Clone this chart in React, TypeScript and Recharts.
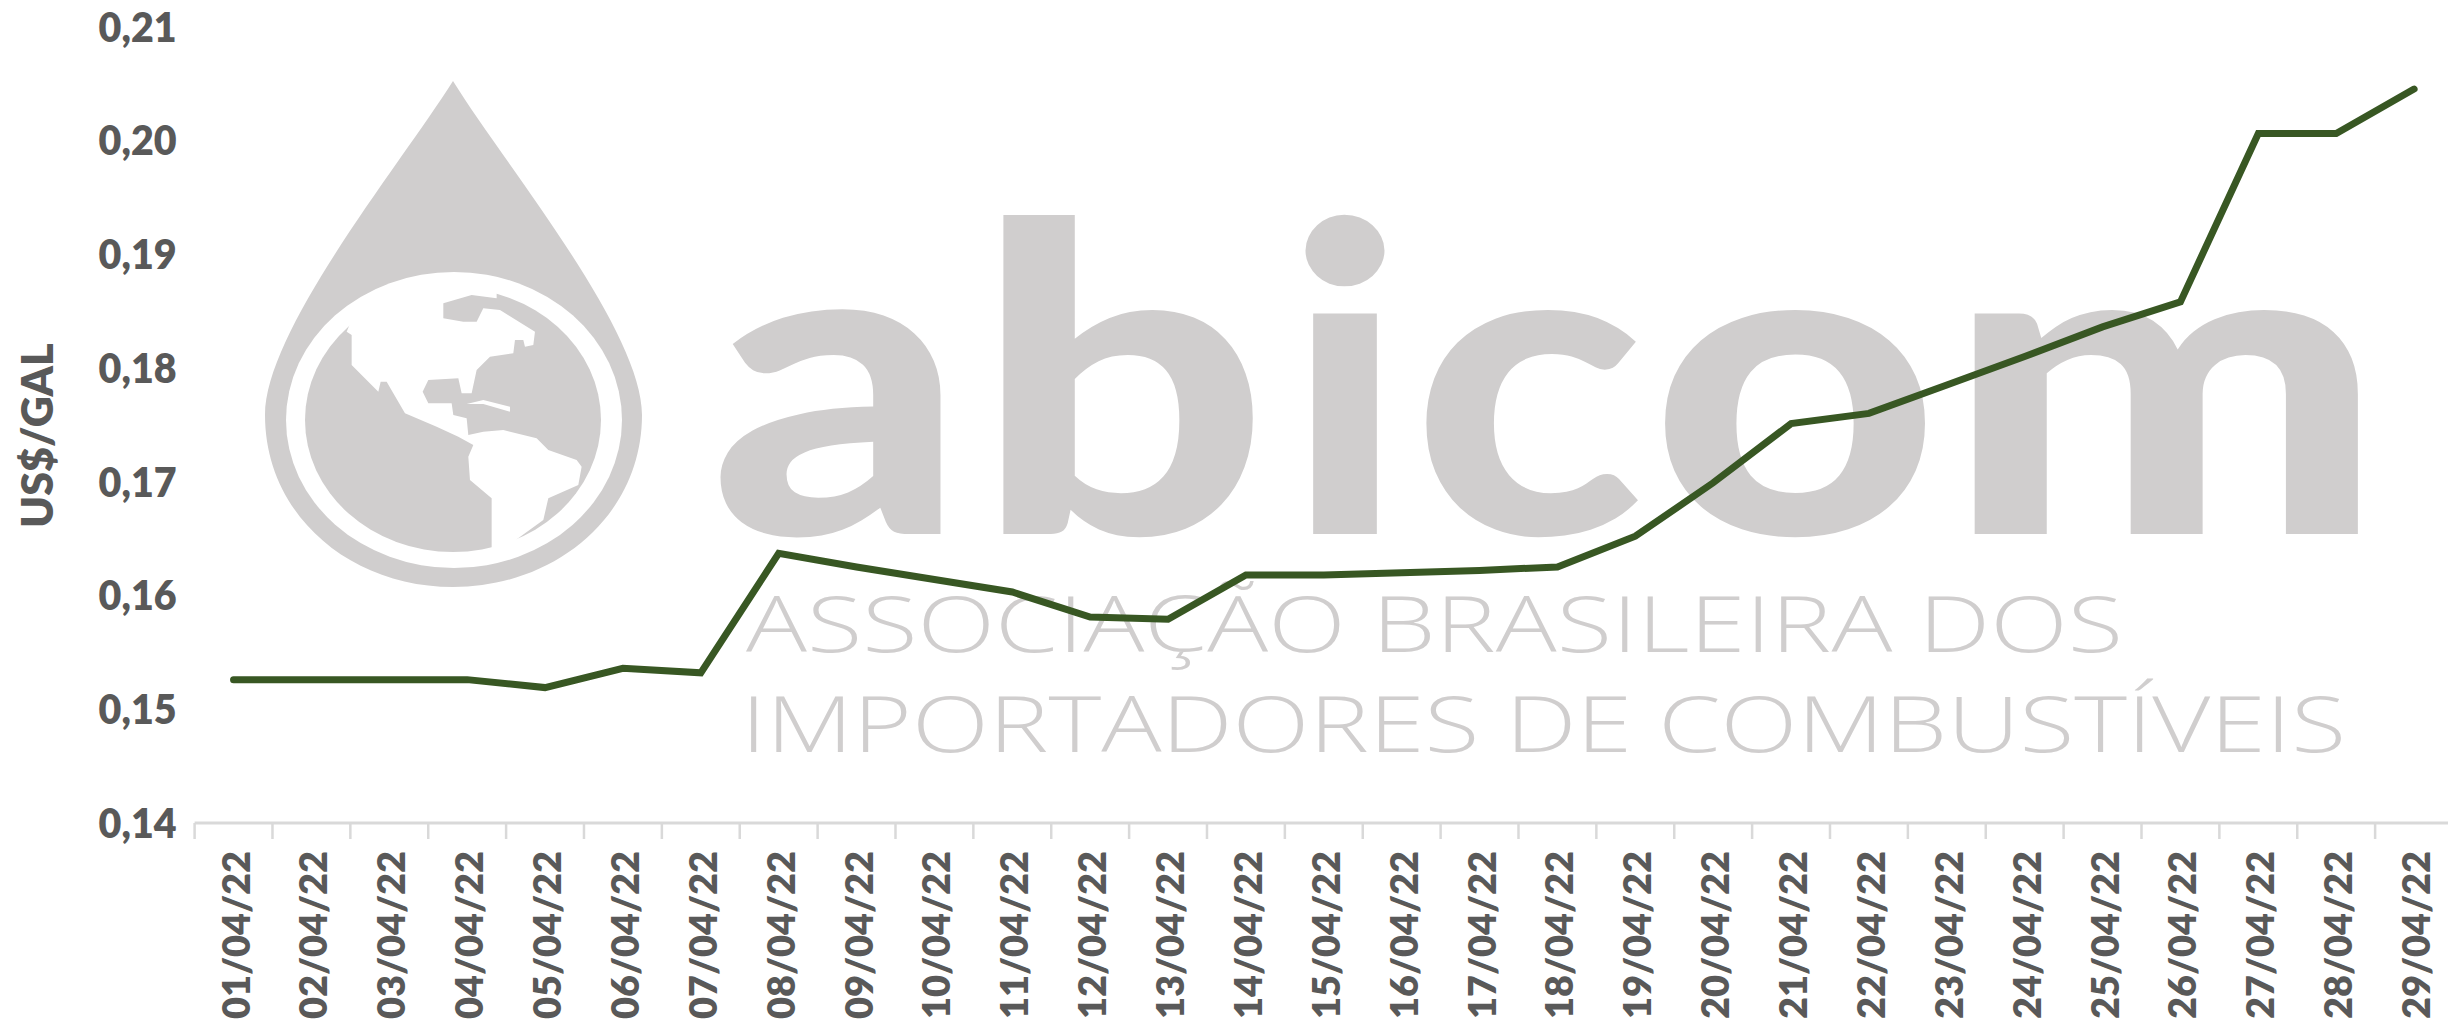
import { LineChart, Line, XAxis, YAxis, Label } from 'recharts'

const days = [
  '01/04/22', '02/04/22', '03/04/22', '04/04/22', '05/04/22', '06/04/22', '07/04/22', '08/04/22', '09/04/22', '10/04/22',
  '11/04/22', '12/04/22', '13/04/22', '14/04/22', '15/04/22', '16/04/22', '17/04/22', '18/04/22', '19/04/22', '20/04/22',
  '21/04/22', '22/04/22', '23/04/22', '24/04/22', '25/04/22', '26/04/22', '27/04/22', '28/04/22', '29/04/22',
]
const prices = [
  0.1526, 0.1526, 0.1526, 0.1526, 0.1519, 0.1536, 0.1532, 0.1637, 0.1625, 0.1614,
  0.1603, 0.1581, 0.1579, 0.1618, 0.1618, 0.162, 0.1622, 0.1625, 0.1652, 0.1699,
  0.1751, 0.176, 0.1785, 0.181, 0.1836, 0.1858, 0.2006, 0.2006, 0.2045,
]
const yTicks = [0.14, 0.15, 0.16, 0.17, 0.18, 0.19, 0.2, 0.21]

const chartData = days.map((day, i) => ({ day, price: prices[i] }))

const WIDTH = 2453
const HEIGHT = 1022
const PLOT_LEFT = 194.6
const STEP = (WIDTH - PLOT_LEFT) / days.length
const FONT = 'Lato, sans-serif'
const TEXT_COLOR = '#595959'
const AXIS_COLOR = '#D9D9D9'
const MARK_COLOR = '#D0CECE'

// white land of the logo globe, traced at 3x from (250,250)
const land =
  'M305 255 L305 345 L385 425 L392 395 L410 395 L430 430 L465 490 L560 530 L625 560 L670 585 L655 620 L660 690 L725 745 L725 915 L790 905 L790 875 L880 810 L895 745 L985 705 L995 650 L980 630 L895 600 L860 565 L760 540 L700 545 L655 555 L650 505 L610 495 L605 460 L535 460 L518 425 L535 390 L625 385 L635 430 L665 430 L680 360 L720 320 L790 310 L795 270 L820 270 L825 290 L850 285 L855 245 L750 180 L700 175 L680 215 L640 215 L580 205 L580 160 L665 135 L740 145 L740 90 L500 90 L330 150 L290 245 Z'
const cuba = 'M650 462 L700 450 L780 470 L780 485 L700 462 Z'

function Watermark() {
  return (
    <svg width={2448} height={1022} style={{ position: 'absolute', left: 0, top: 0 }}>
      <path d="M453 81 C400 165 265 330 265 415 C265 515 350 587 453 587 C556 587 642 515 642 415 C642 330 505 165 453 81 Z" fill={MARK_COLOR} />
      <ellipse cx={454} cy={420} rx={168} ry={148} fill="#fff" />
      <ellipse cx={453} cy={420} rx={148} ry={132} fill={MARK_COLOR} />
      <g transform="translate(250 250) scale(0.3333)" fill="#fff">
        <path d={land} />
        <path d={cuba} />
      </g>
      <g fontFamily="'Open Sans', sans-serif" fill={MARK_COLOR}>
        <text y={534} fontFamily={FONT} fontSize={428} fontWeight={900}>
          <tspan x={710} textLength={256} lengthAdjust="spacingAndGlyphs">a</tspan>
          <tspan x={974} textLength={295} lengthAdjust="spacingAndGlyphs">b</tspan>
          <tspan x={1285} textLength={120} lengthAdjust="spacingAndGlyphs">i</tspan>
          <tspan x={1412} textLength={232} lengthAdjust="spacingAndGlyphs">c</tspan>
          <tspan x={1650} textLength={290} lengthAdjust="spacingAndGlyphs">o</tspan>
          <tspan x={1945} textLength={440} lengthAdjust="spacingAndGlyphs">m</tspan>
        </text>
        <text x={746} y={652} fontSize={78} fontWeight={300} textLength={1377} lengthAdjust="spacingAndGlyphs">ASSOCIAÇÃO BRASILEIRA DOS</text>
        <text x={741} y={752} fontSize={78} fontWeight={300} textLength={1605} lengthAdjust="spacingAndGlyphs">IMPORTADORES DE COMBUSTÍVEIS</text>
      </g>
    </svg>
  )
}

// Ticks sit on the category boundaries, labels on the category centre
function DayTick({ x, y, payload }: { x: number; y: number; payload: { value: string } }) {
  return (
    <g>
      <line x1={x - STEP / 2} x2={x - STEP / 2} y1={y} y2={y + 16} stroke={AXIS_COLOR} strokeWidth={2.5} />
      <text
        transform={`translate(${x + 16},${y + 28}) rotate(-90)`}
        textAnchor="end"
        fontFamily={FONT}
        fontWeight={800}
        fontSize={38}
        fill={TEXT_COLOR}
        textLength={168}
        lengthAdjust="spacingAndGlyphs"
      >
        {payload.value}
      </text>
    </g>
  )
}

function PriceTick({ x, y, payload }: { x: number; y: number; payload: { value: number } }) {
  return (
    <text
      x={x - 78}
      y={y + 15}
      fontFamily={FONT}
      fontWeight={800}
      fontSize={41}
      fill={TEXT_COLOR}
      textLength={78}
      lengthAdjust="spacingAndGlyphs"
    >
      {payload.value.toFixed(2).replace('.', ',')}
    </text>
  )
}

export default function App() {
  return (
    <div style={{ position: 'absolute', left: 0, top: 0, width: 2448, height: HEIGHT, overflow: 'hidden', background: '#fff' }}>
      <Watermark />
      <div style={{ position: 'absolute', left: 0, top: 0 }}>
        <LineChart width={WIDTH} height={HEIGHT} data={chartData} margin={{ top: 26.5, right: 0, bottom: 0, left: 0 }}>
          <XAxis
            dataKey="day"
            interval={0}
            height={199}
            padding={{ left: STEP / 2, right: STEP / 2 }}
            axisLine={{ stroke: AXIS_COLOR, strokeWidth: 3 }}
            tickLine={false}
            tick={DayTick as any}
            tickSize={0}
            tickMargin={0}
          />
          <YAxis
            width={PLOT_LEFT}
            domain={[0.14, 0.21]}
            ticks={yTicks}
            axisLine={false}
            tickLine={false}
            tickSize={0}
            tickMargin={18}
            tick={PriceTick as any}
          >
            <Label
              value="US$/GAL"
              angle={-90}
              position="insideLeft"
              offset={0}
              dx={38}
              dy={11}
              style={{ fontFamily: FONT, fontWeight: 800, fontSize: 43, fill: TEXT_COLOR, textAnchor: 'middle' }}
            />
          </YAxis>
          <Line
            dataKey="price"
            type="linear"
            stroke="#385723"
            strokeWidth={7}
            strokeLinecap="round"
            dot={false}
            isAnimationActive={false}
          />
        </LineChart>
      </div>
    </div>
  )
}
